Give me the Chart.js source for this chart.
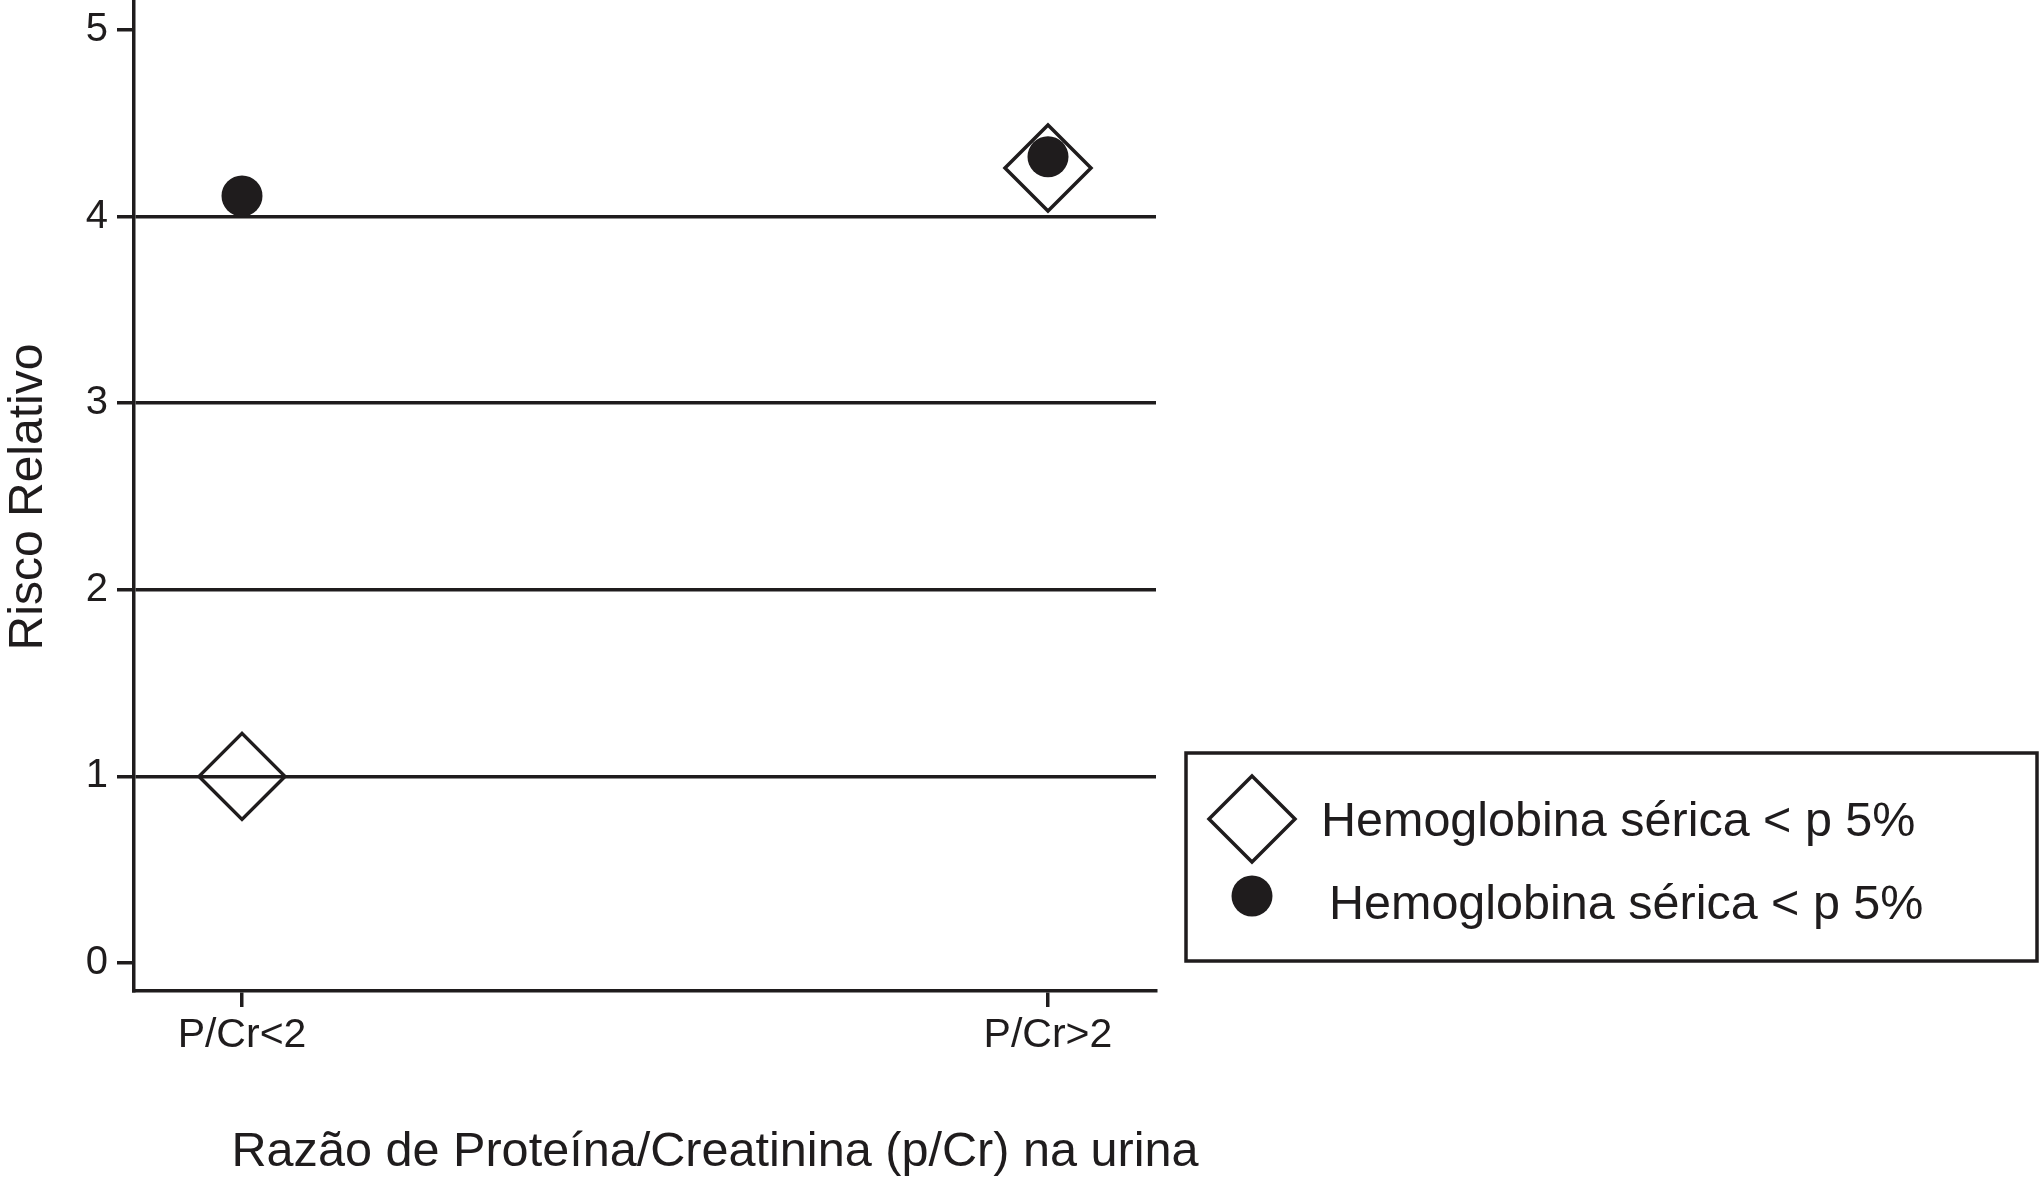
<!DOCTYPE html>
<html>
<head>
<meta charset="utf-8">
<title>Risco Relativo</title>
<script src="https://cdn.jsdelivr.net/npm/chart.js@4/dist/chart.umd.min.js"></script>
<style>
  html, body { margin: 0; padding: 0; background: #ffffff; }
  canvas { display: block; }
</style>
</head>
<body>
<canvas id="c" width="2041" height="1177"></canvas>
<script>
// ---- data ----
const categories = ['P/Cr<2', 'P/Cr>2'];
const categoryPositions = [0, 1];
const hbDiamondValues = [1.0, 4.26];   // open diamonds
const hbCircleValues = [4.11, 4.32];   // filled circles
const seriesNames = ['Hemoglobina sérica < p 5%', 'Hemoglobina sérica < p 5%'];
const yTickValues = [0, 1, 2, 3, 4, 5];
const gridValues = [1, 2, 3, 4];
const xTitle = 'Razão de Proteína/Creatinina (p/Cr) na urina';
const yTitle = 'Risco Relativo';

// ---- style ----
const ink = '#1f1c1d';
const FONT = '"Liberation Sans", Arial, Helvetica, sans-serif';

const diamondPoints = categoryPositions.map((x, i) => ({ x: x, y: hbDiamondValues[i] }));
const circlePoints = categoryPositions.map((x, i) => ({ x: x, y: hbCircleValues[i] }));

const overlayPlugin = {
  id: 'overlay',
  afterDraw(chart) {
    const ctx = chart.ctx;
    ctx.save();
    ctx.fillStyle = ink;
    ctx.strokeStyle = ink;

    // axis titles
    ctx.font = '48.6px ' + FONT;
    ctx.textAlign = 'center';
    ctx.textBaseline = 'alphabetic';
    ctx.fillText(xTitle, 715, 1166);

    ctx.save();
    ctx.translate(42, 497);
    ctx.rotate(-Math.PI / 2);
    ctx.font = '48px ' + FONT;
    ctx.fillText(yTitle, 0, 0);
    ctx.restore();

    // legend box
    ctx.lineWidth = 3.5;
    ctx.strokeRect(1186, 753, 851, 208);

    // legend marker 1: open diamond
    const d0 = chart.data.datasets[0];
    const lx = 1252, ly1 = 819, ly2 = 896;
    const r = d0.pointRadius;
    ctx.beginPath();
    ctx.moveTo(lx - r, ly1);
    ctx.lineTo(lx, ly1 - r);
    ctx.lineTo(lx + r, ly1);
    ctx.lineTo(lx, ly1 + r);
    ctx.closePath();
    ctx.lineWidth = d0.borderWidth;
    ctx.stroke();

    // legend marker 2: filled circle
    const d1 = chart.data.datasets[1];
    ctx.beginPath();
    ctx.arc(lx, ly2, d1.pointRadius, 0, Math.PI * 2);
    ctx.fillStyle = d1.backgroundColor;
    ctx.fill();

    // legend texts
    ctx.fillStyle = ink;
    ctx.font = '48.5px ' + FONT;
    ctx.textAlign = 'left';
    ctx.textBaseline = 'alphabetic';
    ctx.fillText(d0.label, 1321, 836);
    ctx.fillText(d1.label, 1329, 919);

    ctx.restore();
  }
};

new Chart(document.getElementById('c'), {
  type: 'scatter',
  data: {
    datasets: [
      {
        label: seriesNames[0],
        data: diamondPoints,
        pointStyle: 'rectRot',
        pointRadius: 43,
        pointHoverRadius: 43,
        borderWidth: 3.5,
        borderColor: ink,
        backgroundColor: 'rgba(0,0,0,0)',
        showLine: false,
        order: 2,
        clip: false
      },
      {
        label: seriesNames[1],
        data: circlePoints,
        pointStyle: 'circle',
        pointRadius: 20.5,
        pointHoverRadius: 20.5,
        borderWidth: 0,
        borderColor: ink,
        backgroundColor: ink,
        showLine: false,
        order: 1,
        clip: false
      }
    ]
  },
  options: {
    responsive: false,
    devicePixelRatio: 1,
    animation: false,
    events: [],
    layout: { autoPadding: false, padding: { left: 0, top: 0, right: 2041 - 1156, bottom: 0 } },
    plugins: {
      legend: { display: false },
      tooltip: { enabled: false },
      title: { display: false }
    },
    scales: {
      x: {
        type: 'linear',
        min: -0.134,
        max: 1.134,
        afterBuildTicks(scale) { scale.ticks = categoryPositions.map(v => ({ value: v })); },
        afterFit(scale) {
          scale.height = 1177 - 991;
          scale.paddingLeft = 0; scale.paddingRight = 0;
          scale.paddingTop = 0; scale.paddingBottom = 0;
        },
        ticks: {
          callback: (v) => categories[categoryPositions.indexOf(v)],
          color: ink,
          font: { family: FONT, size: 41 },
          padding: 4,
          maxRotation: 0,
          autoSkip: false
        },
        grid: {
          color: 'rgba(0,0,0,0)',
          tickColor: ink,
          lineWidth: 3.5,
          tickLength: 16,
          drawTicks: true
        },
        border: { display: true, color: ink, width: 3.5 }
      },
      y: {
        type: 'linear',
        min: -0.15,
        max: 5.16,
        afterBuildTicks(scale) { scale.ticks = yTickValues.map(v => ({ value: v })); },
        afterFit(scale) {
          scale.width = 134;
          scale.paddingLeft = 0; scale.paddingRight = 0;
          scale.paddingTop = 0; scale.paddingBottom = 0;
        },
        ticks: {
          callback: (v) => String(v),
          color: ink,
          font: { family: FONT, size: 40 },
          padding: 9,
          autoSkip: false
        },
        grid: {
          color: (c) => (c.tick && gridValues.includes(c.tick.value)) ? ink : 'rgba(0,0,0,0)',
          tickColor: ink,
          lineWidth: 3.5,
          tickLength: 17,
          drawTicks: true
        },
        border: { display: true, color: ink, width: 3.5 }
      }
    }
  },
  plugins: [overlayPlugin]
});
</script>
</body>
</html>
